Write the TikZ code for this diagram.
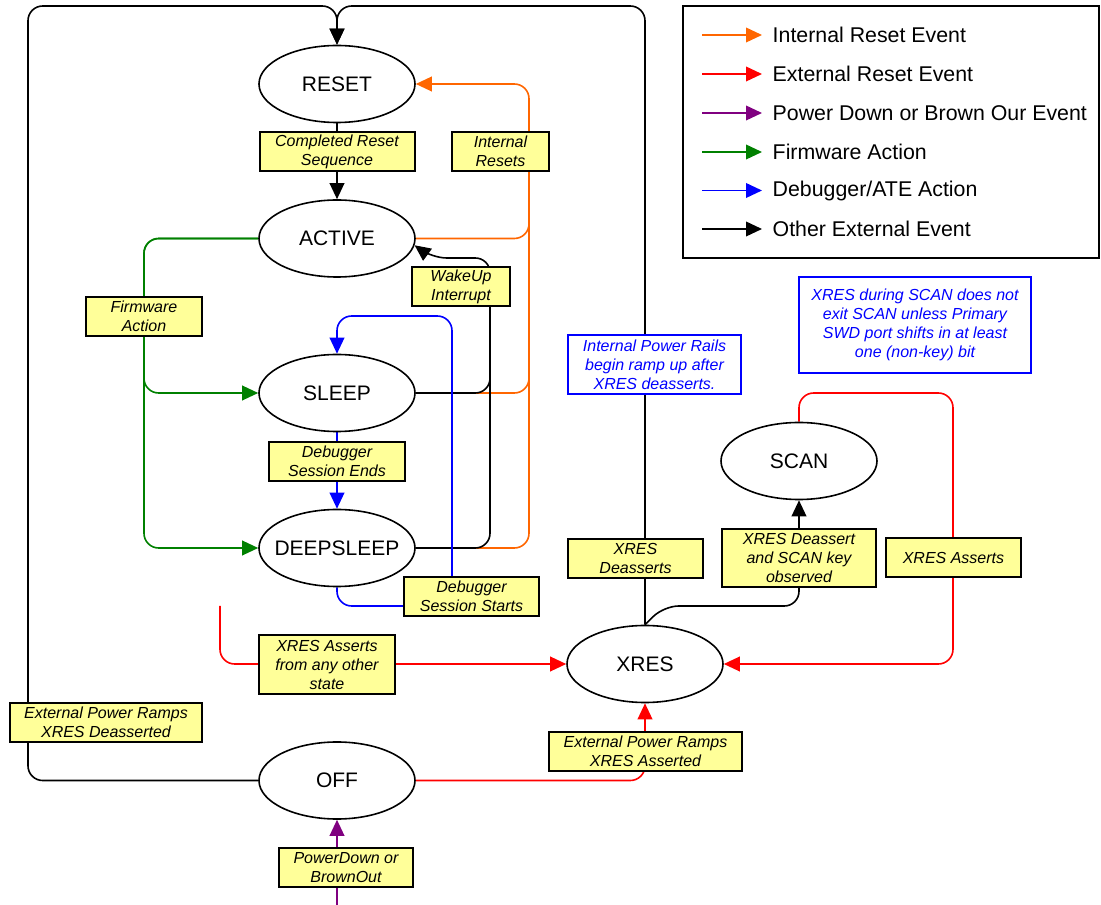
\documentclass[tikz,border=0pt]{standalone}
\usepackage{fontspec}
\setmainfont{Liberation Sans}
\usetikzlibrary{arrows.meta,shapes.geometric}

\definecolor{irst}{RGB}{255,102,0}
\definecolor{xrst}{RGB}{255,0,0}
\definecolor{pwr}{RGB}{128,0,128}
\definecolor{fwc}{RGB}{0,128,0}
\definecolor{dbg}{RGB}{0,0,255}
\definecolor{lblfill}{RGB}{255,255,153}

\pgfdeclarelayer{edges}
\pgfsetlayers{edges,main}

\tikzset{
  state/.style={ellipse,draw,line width=1.2pt,fill=white,minimum width=117pt,
    minimum height=57.75pt,inner sep=0pt,font=\fontsize{15.75}{18}\selectfont},
  lbl/.style 2 args={draw,line width=1.5pt,fill=lblfill,inner sep=0pt,align=center,
    minimum width=#1,minimum height=#2,font=\fontsize{12}{14.25}\selectfont\itshape},
  note/.style 2 args={draw=dbg,line width=1.5pt,fill=white,text=dbg,inner sep=0pt,
    align=center,minimum width=#1,minimum height=#2,font=\fontsize{12}{14.25}\selectfont\itshape},
  wire/.style={line width=1.2pt,rounded corners=11pt},
  keytext/.style={anchor=west,font=\fontsize{16}{19}\selectfont},
}

\begin{document}
\begin{tikzpicture}[x=0.75pt,y=-0.75pt,>={Triangle[length=12pt,width=11pt]}]
\useasboundingbox (0,0) rectangle (1101,905);

% states (text boxed to zero width so every ellipse keeps the same size)
\node[state] (reset)  at (337,84)    {RESET};
\node[state] (active) at (337,238.5) {ACTIVE};
\node[state] (sleep)  at (337,393)   {SLEEP};
\node[state] (deep)   at (337,548)   {\makebox[0pt]{DEEPSLEEP}};
\node[state] (off)    at (337,780.5) {OFF};
\node[state] (xres)   at (645,664)   {XRES};
\node[state] (scan)   at (799,461)   {SCAN};

% transition labels
\node[lbl={116.25pt}{29.25pt}] (lcomplete)  at (337,151.5)  {Completed Reset\\Sequence};
\node[lbl={72.75pt}{29.25pt}]  (lintreset)  at (500.5,151.5){Internal\\Resets};
\node[lbl={73.5pt}{29.25pt}]   (lwakeup)    at (461,287)    {WakeUp\\Interrupt};
\node[lbl={87pt}{29.25pt}]     (lfirmware)  at (144,316.5)  {Firmware\\Action};
\node[lbl={102pt}{29.25pt}]    (ldbgend)    at (337,461.5)  {Debugger\\Session Ends};
\node[lbl={101.25pt}{29.25pt}] (ldbgstart)  at (471.5,596.5){Debugger\\Session Starts};
\node[lbl={102pt}{44.25pt}]    (lanystate)  at (327,664.5)  {XRES Asserts\\from any other\\state};
\node[lbl={144pt}{29.25pt}]    (lrampdeas)  at (106,722.5)  {External Power Ramps\\XRES Deasserted};
\node[lbl={144.75pt}{29.25pt}] (lrampas)    at (645.5,751.5){External Power Ramps\\XRES Asserted};
\node[lbl={100.5pt}{29.25pt}]  (lpowerdown) at (346,867.5)  {PowerDown or\\BrownOut};
\node[lbl={101.25pt}{29.25pt}] (lxdeas)     at (635.5,558.5){XRES\\Deasserts};
\node[lbl={115.5pt}{43.5pt}]   (lscankey)   at (799,558)    {XRES Deassert\\and SCAN key\\observed};
\node[lbl={101.25pt}{29.25pt}] (lxas)       at (953.5,558)  {XRES Asserts};

% notes
\node[note={129.75pt}{44.25pt}] (nrails) at (654.5,364.5)
  {Internal Power Rails\\begin ramp up after\\XRES deasserts.};
\node[note={174pt}{72pt}] (nscan) at (915,325)
  {XRES during SCAN does not\\exit SCAN unless Primary\\SWD port shifts in at least\\one (non-key) bit};

% key
\node[draw,line width=1.5pt,minimum width=312pt,minimum height=189pt,inner sep=0pt]
  (legend) at (891,132) {};
\foreach \y/\c/\t [count=\i] in {35/irst/{Internal Reset Event},
    74/xrst/{External Reset Event},
    113/pwr/{Power Down or Brown Our Event},
    152/fwc/{Firmware Action},
    190.5/dbg/{Debugger/ATE Action},
    229/black/{Other External Event}}{
  \coordinate (k\i) at (702,\y);
  \node[keytext] (t\i) at (768,\y) {\t};
  \draw[->,\c,line width=1.2pt] (k\i) -- ([xshift=-4.5pt]t\i.west);
}

% routing points
\coordinate (topjoin)  at (337,6);
\coordinate (ulcorner) at (28,6);
\coordinate (llcorner) at (28,780.5);
\coordinate (orail)    at (529,84);
\coordinate (orailjoin) at (529,151);
\coordinate (wrail)    at (490,258);
\coordinate (wrailjoin) at (490,290);
\coordinate (wbend)    at (432,258);
\coordinate (fwrail)   at (144,238.5);
\coordinate (dbgrail)  at (452,606);
\coordinate (dbgtop)   at (452,316);
\coordinate (anyfrom)  at (220,606);
\coordinate (scanloop) at (953,393);
\coordinate (scanbend) at (664,606);
\coordinate (pdfrom)   at (337,905);

\begin{pgfonlayer}{edges}
  % power ramps with XRES deasserted, and XRES deasserts
  \draw[wire,->] (off.west) -- (llcorner) -- (ulcorner) -- (topjoin) -- (reset.north);
  \draw[wire,->] (xres.north) |- (topjoin) -- (reset.north);
  % completed reset sequence
  \draw[wire,->] (reset) -- (active);
  % internal resets
  \draw[wire,irst] (active.east) -| (orailjoin);
  \draw[wire,irst] (sleep.east) -| (orailjoin);
  \draw[wire,irst,->] (deep.east) -| (orail) -- (reset.east);
  % wakeup interrupt
  \draw[wire] (sleep.east) -| (wrailjoin);
  \draw[wire,->] (deep.east) -| (wrail) -- (wbend) -- (active.-5);
  % firmware action
  \draw[wire,fwc,->] (active.west) -- (fwrail) |- (sleep.west);
  \draw[wire,fwc,->] (active.west) -- (fwrail) |- (deep.west);
  % debugger sessions
  \draw[wire,dbg,->] (sleep) -- (deep);
  \draw[wire,dbg,->] (deep.south) |- (dbgrail) -- (dbgtop) -| (sleep.north);
  % external resets
  \draw[wire,xrst,->] (anyfrom) |- (xres.west);
  \draw[wire,xrst,->] (scan.north) |- (scanloop) |- (xres.east);
  \draw[wire,xrst,->] (off.east) -| (xres.south);
  % power down / brown out
  \draw[wire,pwr,->] (pdfrom) -- (off.south);
  % scan key observed
  \draw[wire,->] (xres.north) -- (scanbend) -| (scan.south);
\end{pgfonlayer}
\end{tikzpicture}
\end{document}
